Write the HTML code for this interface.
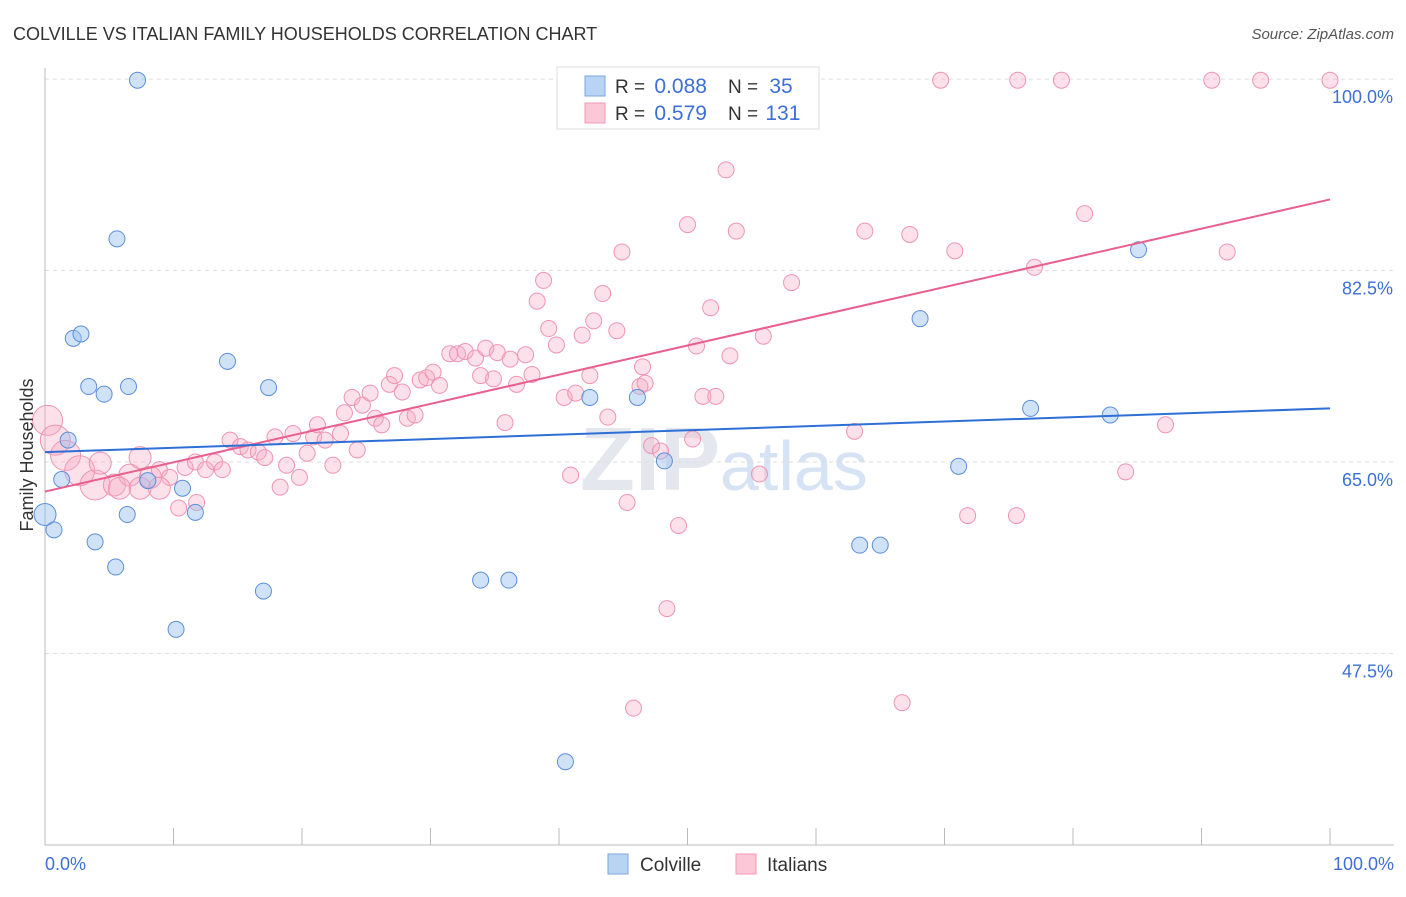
<!DOCTYPE html>
<html><head><meta charset="utf-8"><style>
body{margin:0;background:#fff;font-family:"Liberation Sans",sans-serif;}
svg text{font-family:"Liberation Sans",sans-serif;}
</style></head><body>
<svg id="chart" width="1406" height="892">
<text x="13" y="40" font-size="18" fill="#333">COLVILLE VS ITALIAN FAMILY HOUSEHOLDS CORRELATION CHART</text>
<text x="1394" y="39" font-size="15" fill="#555" font-style="italic" text-anchor="end">Source: ZipAtlas.com</text>
<text x="720" y="490" font-size="90" fill="#e4e8ee" text-anchor="end" font-family="Liberation Serif" font-weight="bold">ZIP</text>
<text x="720" y="490" font-size="70" fill="#d6e3f5">atlas</text>
<g id="grid"></g>
<g id="axes"></g>
<g id="pts"></g>
<g id="lines"></g>
<text transform="translate(33,455) rotate(-90)" font-size="18" fill="#333" text-anchor="middle">Family Households</text>
<g>
<rect x="557" y="67" width="262" height="62" fill="#fff" stroke="#ddd"/>
<rect x="585" y="76" width="20" height="20" fill="#b9d3f5" stroke="#7aa7e0"/>
<rect x="585" y="103" width="20" height="20" fill="#fbc8d8" stroke="#f09ab6"/>
<text x="615" y="93" font-size="19" fill="#333">R = <tspan fill="#3d6fd6" font-size="21" dx="4">0.088</tspan></text>
<text x="728" y="93" font-size="19" fill="#333">N = <tspan fill="#3d6fd6" font-size="21" dx="6">35</tspan></text>
<text x="615" y="120" font-size="19" fill="#333">R = <tspan fill="#3d6fd6" font-size="21" dx="4">0.579</tspan></text>
<text x="728" y="120" font-size="19" fill="#333">N = <tspan fill="#3d6fd6" font-size="21" dx="2">131</tspan></text>
</g>
<g>
<rect x="608" y="854" width="20" height="20" fill="#b9d3f5" stroke="#7aa7e0"/>
<text x="640" y="871" font-size="19" fill="#333">Colville</text>
<rect x="736" y="854" width="20" height="20" fill="#fbc8d8" stroke="#f09ab6"/>
<text x="767" y="871" font-size="19" fill="#333">Italians</text>
</g>
</svg>
<script>
const yTicks=[100,82.5,65,47.5];
const yTickLabels=["100.0%","82.5%","65.0%","47.5%"];
const xLabels=["0.0%","100.0%"];
const colvilleX=[7.2,5.6,2.2,2.8,3.4,4.6,6.5,14.2,17.4,1.8,1.3,0.7,0,3.9,6.4,5.5,10.7,11.7,8.0,10.2,17.0,33.9,36.1,40.5,42.4,46.1,48.2,63.4,65.0,71.1,68.1,76.7,82.9,85.1,53.5];
const colvilleY=[99.9,85.4,76.3,76.7,71.9,71.2,71.9,74.2,71.8,67.0,63.4,58.8,60.2,57.7,60.2,55.4,62.6,60.4,63.3,49.7,53.2,54.2,54.2,37.6,70.9,70.9,65.1,57.4,57.4,64.6,78.1,69.9,69.3,84.4,99.9];
const colvilleSize=[0,0,0,0,0,0,0,0,0,0,0,0,1,0,0,0,0,0,0,0,0,0,0,0,0,0,0,0,0,0,0,0,0,0,0];
const italX=[0.2,0.8,1.6,2.7,3.9,5.4,6.6,7.4,8.2,8.9,9.7,10.4,10.9,11.7,11.8,12.5,13.2,13.8,14.4,15.2,15.8,16.6,17.1,17.9,18.3,18.8,19.3,19.8,20.4,20.9,21.2,21.8,22.4,23.0,23.3,23.9,24.3,24.7,25.3,25.7,26.2,26.8,27.2,27.8,28.2,28.8,29.2,29.7,30.2,30.7,31.5,32.1,32.7,33.5,33.9,34.3,34.9,35.2,35.8,36.2,36.7,37.4,37.9,38.3,38.8,39.2,39.8,40.4,40.9,41.3,41.8,42.4,42.7,43.4,43.8,44.5,44.9,45.3,45.8,46.3,46.5,46.7,47.2,47.9,48.4,49.3,50.0,50.4,50.7,51.2,51.8,52.2,53.3,53.0,53.8,55.6,55.9,58.1,58.8,54.6,63.0,63.8,66.7,67.3,69.7,70.8,71.8,75.6,75.7,77.0,79.1,80.9,84.1,87.2,90.8,92.0,94.6,100,5.8,4.3,8.9,7.4];
const italY=[68.8,67.0,65.6,64.2,62.9,62.9,63.8,62.6,63.6,64.3,63.6,60.8,64.5,65.0,61.3,64.3,65.0,64.3,67.0,66.4,66.1,65.9,65.4,67.3,62.7,64.7,67.6,63.6,65.8,67.3,68.4,67.0,64.7,67.6,69.5,70.9,66.1,70.2,71.3,69.0,68.4,72.1,72.9,71.4,69.0,69.3,72.5,72.7,73.2,72.0,74.9,74.9,75.1,74.5,72.9,75.4,72.6,75.0,68.6,74.4,72.1,74.8,73.0,79.7,81.6,77.2,75.7,70.9,63.8,71.3,76.6,72.9,77.9,80.4,69.1,77.0,84.2,61.3,42.5,71.9,73.7,72.2,66.5,66.0,51.6,59.2,86.7,67.1,75.6,71.0,79.1,71.0,74.7,91.7,86.1,63.9,76.5,81.4,99.9,99.9,67.8,86.1,43.0,85.8,99.9,84.3,60.1,60.1,99.9,82.8,99.9,87.7,64.1,68.4,99.9,84.2,99.9,99.9,62.6,64.9,62.6,65.4];
const italSize=[2,2,2,2,2,1,1,1,1,0,0,0,0,0,0,0,0,0,0,0,0,0,0,0,0,0,0,0,0,0,0,0,0,0,0,0,0,0,0,0,0,0,0,0,0,0,0,0,0,0,0,0,0,0,0,0,0,0,0,0,0,0,0,0,0,0,0,0,0,0,0,0,0,0,0,0,0,0,0,0,0,0,0,0,0,0,0,0,0,0,0,0,0,0,0,0,0,0,0,0,0,0,0,0,0,0,0,0,0,0,0,0,0,0,0,0,0,0,1,1,1,1];
const colvilleTrend=[65.9,69.9];
const italTrend=[62.3,89.0];
const NS="http://www.w3.org/2000/svg";
const X=v=>45+v*12.85, Y=v=>462-(v-65)*10.94;
function mk(p,tag,at){const e=document.createElementNS(NS,tag);for(const k in at)e.setAttribute(k,at[k]);document.getElementById(p).appendChild(e);return e;}
yTicks.forEach((t,i)=>{
 const g=mk('grid','line',{x1:45,x2:1394,y1:Y(t),y2:Y(t),stroke:'#ddd','stroke-dasharray':'4,4'});
 
 
 const tx=mk('grid','text',{x:1393,y:Y(t)+24,'font-size':18,fill:'#3d6fd6','text-anchor':'end'});
 tx.textContent=yTickLabels[i];
 
 
});
let a=mk('axes','line',{x1:45,x2:1394,y1:845,y2:845,stroke:'#bbb'});


a=mk('axes','line',{x1:45,x2:45,y1:68,y2:845,stroke:'#bbb'});


for(let i=0;i<=10;i++){const t=mk('axes','line',{x1:X(i*10),x2:X(i*10),y1:828,y2:845,stroke:'#bbb'});
 
 }
let l=mk('axes','text',{x:45,y:870,'font-size':18,fill:'#3d6fd6'});l.textContent=xLabels[0];


l=mk('axes','text',{x:1394,y:870,'font-size':18,fill:'#3d6fd6','text-anchor':'end'});l.textContent=xLabels[1];


const rad=[8,11,15];
italX.forEach((x,i)=>{const c=mk('pts','circle',{cx:X(x),cy:Y(italY[i]),r:rad[italSize[i]],fill:'rgba(247,170,195,0.35)',stroke:'#ef94b3','stroke-width':1});
 
 });
colvilleX.forEach((x,i)=>{const c=mk('pts','circle',{cx:X(x),cy:Y(colvilleY[i]),r:rad[colvilleSize[i]],fill:'rgba(150,190,240,0.45)',stroke:'#5b8fd8','stroke-width':1});
 
 });
let t=mk('lines','line',{x1:X(0),x2:X(100),y1:Y(italTrend[0]),y2:Y(italTrend[1]),stroke:'#e8608f','stroke-width':2});


t=mk('lines','line',{x1:X(0),x2:X(100),y1:Y(colvilleTrend[0]),y2:Y(colvilleTrend[1]),stroke:'#2d6fd6','stroke-width':2});


</script>
</body></html>
